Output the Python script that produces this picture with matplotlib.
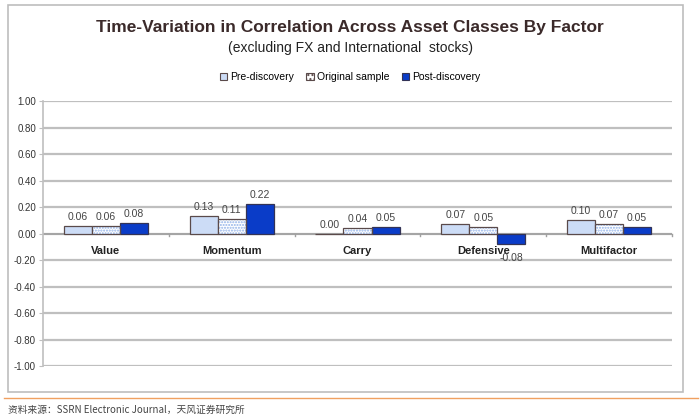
import numpy as np
import matplotlib.pyplot as plt
from matplotlib.patches import Rectangle
from matplotlib.lines import Line2D

# donnees
categories = ["Value", "Momentum", "Carry", "Defensive", "Multifactor"]
pre_discovery = [0.06, 0.13, 0.00, 0.07, 0.10]
original_sample = [0.06, 0.11, 0.04, 0.05, 0.07]
post_discovery = [0.08, 0.22, 0.05, -0.08, 0.05]
series_names = ["Pre-discovery", "Original sample", "Post-discovery"]
y_ticks = [1.0, 0.8, 0.6, 0.4, 0.2, 0.0, -0.2, -0.4, -0.6, -0.8, -1.0]

plt.rcParams["font.family"] = ["Liberation Sans", "DejaVu Sans"]

fig = plt.figure(figsize=(7, 4.18), dpi=100)

# cadre exterieur
fig.patches.append(Rectangle((0.011, 0.062), 0.965, 0.926, transform=fig.transFigure,
                             fill=False, edgecolor="#BDBDBD", linewidth=1.2))
# ligne orange + source
fig.lines.append(Line2D([0.005, 0.997], [0.048, 0.048], transform=fig.transFigure,
                        color="#F0A060", linewidth=1))
fig.text(0.012, 0.019, "资料来源：SSRN Electronic Journal，天风证券研究所", fontsize=7,
         color="#444444", va="center", family=["Noto Sans CJK SC", "DejaVu Sans"])

fig.text(0.5, 0.935, "Time-Variation in Correlation Across Asset Classes By Factor",
         ha="center", va="center", fontsize=12.5, fontweight="bold", color="#3B2A2A")
fig.text(0.5, 0.885, "(excluding FX and International  stocks)",
         ha="center", va="center", fontsize=10, color="#222222")

ax = fig.add_axes([0.0614, 0.1244, 0.8986, 0.6336])

x = np.arange(len(categories))
w = 0.223
edge = "#5A4A4A"

b1 = ax.bar(x - w, pre_discovery, w, color="#CCDCF6", edgecolor=edge, linewidth=0.9, zorder=3)
b2 = ax.bar(x, original_sample, w, color="white", edgecolor="#8FB0E8", hatch="......",
            linewidth=0, zorder=3)
ax.bar(x, original_sample, w, fill=False, edgecolor=edge, linewidth=0.9, zorder=4)
b3 = ax.bar(x + w, post_discovery, w, color="#0A3CC8", edgecolor="#333355", linewidth=0.9, zorder=3)

for bars, vals in [(b1, pre_discovery), (b2, original_sample), (b3, post_discovery)]:
    for rect, v in zip(bars, vals):
        cx = rect.get_x() + rect.get_width() / 2
        if v >= 0:
            ax.text(cx, v + 0.03, f"{v:.2f}", ha="center", va="bottom", fontsize=7.5, color="#444444", zorder=6)
        else:
            ax.text(cx, v - 0.07, f"{v:.2f}", ha="center", va="top", fontsize=7.5, color="#444444", zorder=6)

for xi, cat in zip(x, categories):
    ax.text(xi, -0.135, cat, ha="center", va="center", fontsize=8, fontweight="bold", color="#222222", zorder=5)

ax.set_xlim(-0.5, len(categories) - 0.5)
ax.set_ylim(-1.0, 1.0)
ax.set_yticks(y_ticks)
ax.set_yticklabels([f"{t:.2f}" for t in y_ticks], fontsize=7, color="#333333")
ax.set_xticks([])
for t in y_ticks:
    ax.axhline(t, color="#BFBFBF", linewidth=1.6, zorder=1)
ax.axhline(0, color="#A0A0A0", linewidth=1.2, zorder=2)
for b in np.arange(-0.5, len(categories), 1.0)[1:]:
    ax.plot([b, b], [0, -0.02], color="#A0A0A0", linewidth=1, zorder=2, clip_on=False)

for s in ["top", "right", "bottom"]:
    ax.spines[s].set_visible(False)
ax.spines["left"].set_color("#BFBFBF")
ax.spines["left"].set_linewidth(1.2)
ax.tick_params(axis="y", length=3, color="#BFBFBF", pad=2)

handles = [Rectangle((0, 0), 1, 1, facecolor="#CCDCF6", edgecolor=edge, linewidth=0.8),
           Rectangle((0, 0), 1, 1, facecolor="white", edgecolor=edge, hatch="....", linewidth=0.8),
           Rectangle((0, 0), 1, 1, facecolor="#0A3CC8", edgecolor="#333355", linewidth=0.8)]
fig.legend(handles, series_names, loc="center", bbox_to_anchor=(0.5, 0.815), ncol=3,
           frameon=False, fontsize=7.5, handlelength=0.7, handleheight=0.7,
           handletextpad=0.3, columnspacing=1.2)

fig.savefig("out.png", dpi=100)
